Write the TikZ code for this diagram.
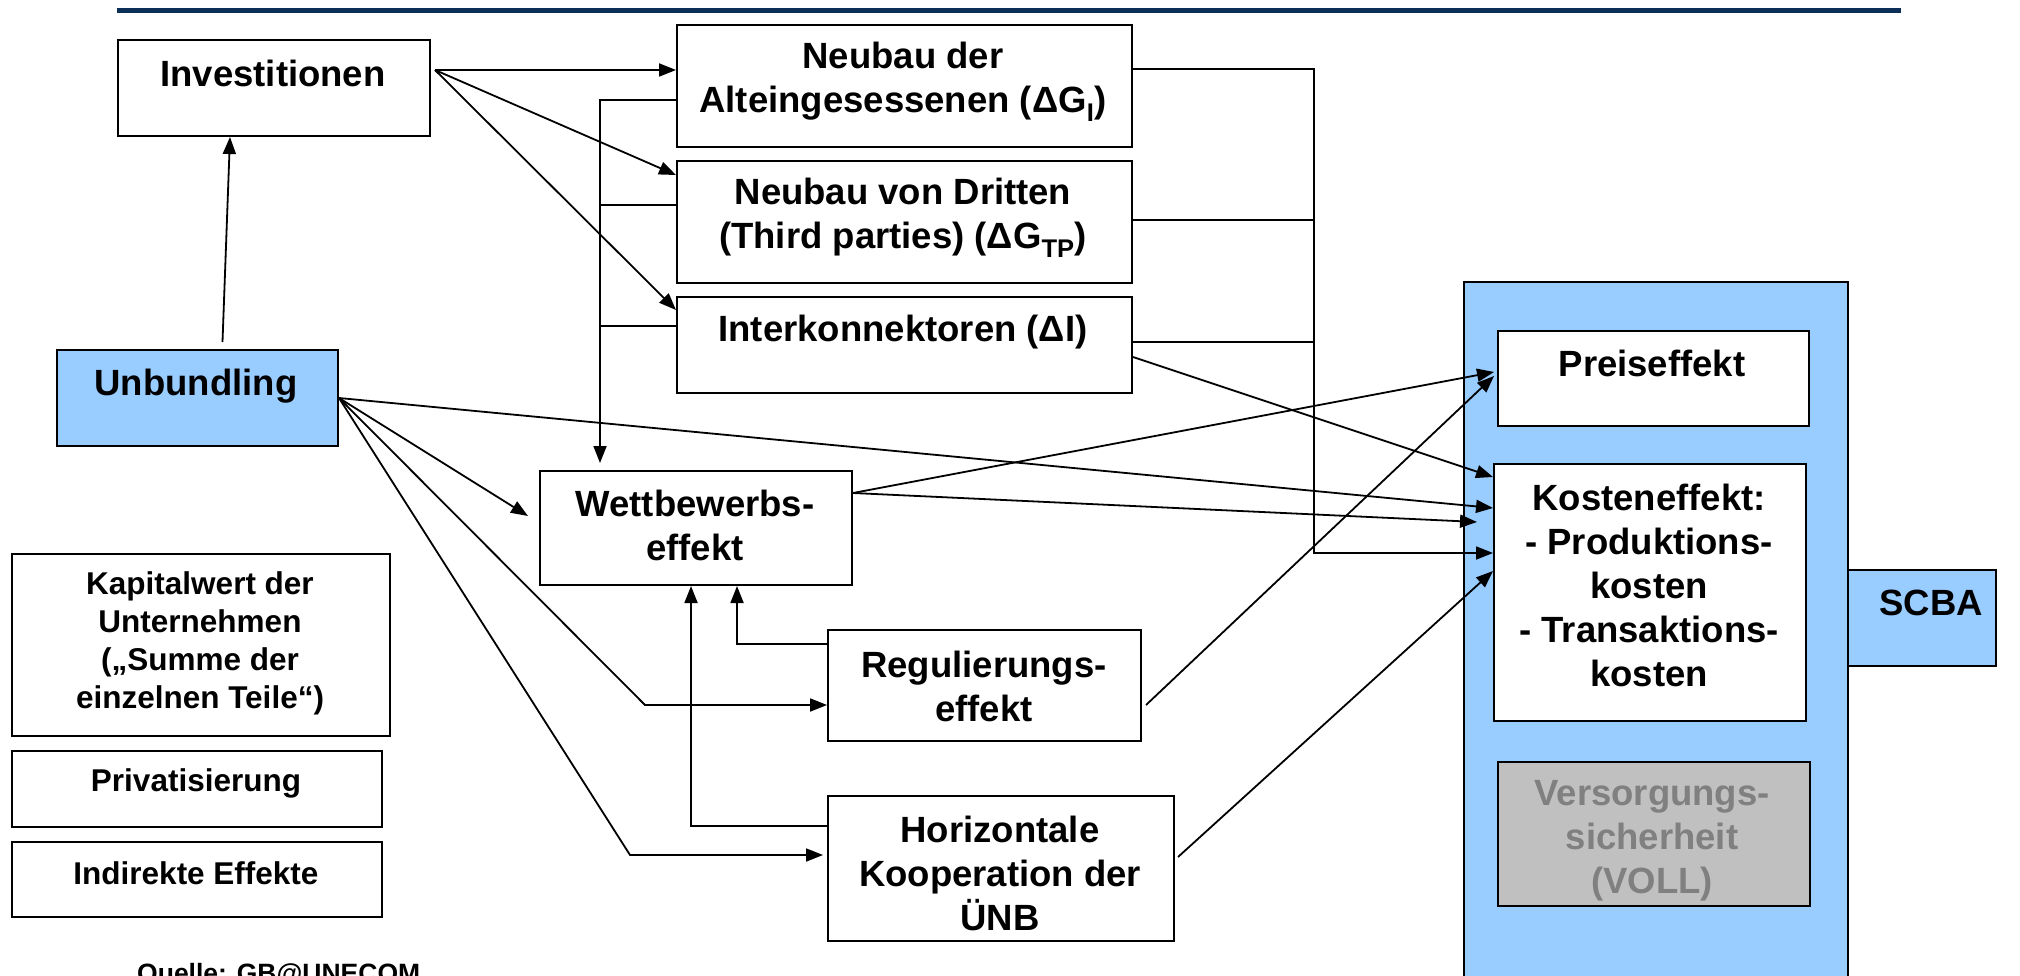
\documentclass[tikz,border=0pt]{standalone}
\usepackage{fontspec}
\setmainfont{Liberation Sans}
\usetikzlibrary{arrows.meta,calc}
\definecolor{navy}{HTML}{0B2F57}
\definecolor{lblue}{HTML}{99CCFF}
\definecolor{gfill}{HTML}{C0C0C0}
\definecolor{gtext}{HTML}{808080}
\begin{document}
\begin{tikzpicture}[x=1pt,y=-1pt,
  box/.style={draw, line width=2pt, inner sep=0pt, anchor=north west, fill=white},
  mtxt/.style={font=\fontsize{36.5}{44}\selectfont\bfseries, align=center, inner sep=0pt},
  stxt/.style={font=\fontsize{31.5}{38}\selectfont\bfseries, align=center, inner sep=0pt},
  ln/.style={line width=1.8pt},
  arr/.style={line width=1.8pt, -{Triangle[length=17pt,width=13pt]}}]
\useasboundingbox (0,0) rectangle (2020,976);
% header rule
\draw[navy, line width=5pt] (117,10.5) -- (1901,10.5);
% big SCBA panel
\node[box, fill=lblue, minimum width=384pt, minimum height=720pt] (panel) at (1463,281) {};
\node[box, fill=lblue, minimum width=148pt, minimum height=96pt] (scba) at (1847,569) {};
% boxes
\node[box, minimum width=312pt, minimum height=96pt] (inv) at (117,39) {};
\node[box, minimum width=455pt, minimum height=122pt] (nda) at (676,24) {};
\node[box, minimum width=455pt, minimum height=122pt] (ndr) at (676,160) {};
\node[box, minimum width=455pt, minimum height=96pt] (ik) at (676,296) {};
\node[box, fill=lblue, minimum width=281pt, minimum height=96pt] (unb) at (56,349) {};
\node[box, minimum width=312pt, minimum height=114pt] (wb) at (539,470) {};
\node[box, minimum width=313pt, minimum height=111pt] (reg) at (827,629) {};
\node[box, minimum width=346pt, minimum height=145pt] (hk) at (827,795) {};
\node[box, minimum width=311pt, minimum height=95pt] (pe) at (1497,330) {};
\node[box, minimum width=312pt, minimum height=257pt] (ke) at (1493,463) {};
\node[box, fill=gfill, minimum width=312pt, minimum height=144pt] (vs) at (1497,761) {};
\node[box, minimum width=378pt, minimum height=182pt] (kw) at (11,553) {};
\node[box, minimum width=370pt, minimum height=76pt] (pr) at (11,750) {};
\node[box, minimum width=370pt, minimum height=75pt] (ie) at (11,841) {};
% texts
\node[mtxt] (tinv) at (273,73) {Investitionen};
\node[mtxt] (tnda) at (903,82) {Neubau der\\Alteingesessenen (ΔG\textsubscript{I})};
\node[mtxt] (tndr) at (903,218) {Neubau von Dritten\\(Third parties) (ΔG\textsubscript{TP})};
\node[mtxt] (tik) at (903,332) {Interkonnektoren (ΔI)};
\node[mtxt] (tunb) at (196,386) {Unbundling};
\node[mtxt] (twb) at (695,525) {Wettbewerbs-\\effekt};
\node[mtxt] (treg) at (984,686) {Regulierungs-\\effekt};
\node[mtxt] (thk) at (1000,873) {Horizontale\\Kooperation der\\ÜNB};
\node[mtxt] (tpe) at (1652,363) {Preiseffekt};
\node[mtxt] (tke) at (1649,585) {Kosteneffekt:\\- Produktions-\\kosten\\- Transaktions-\\kosten};
\node[mtxt, text=gtext] (tvs) at (1652,841) {Versorgungs-\\sicherheit\\(VOLL)};
\node[mtxt] (tscba) at (1931,603) {SCBA};
\node[stxt] (tkw) at (200,643) {Kapitalwert der\\Unternehmen\\(„Summe der\\einzelnen Teile“)};
\node[stxt] (tpr) at (196,783) {Privatisierung};
\node[stxt] (tie) at (196,873) {Indirekte Effekte};
\node[font=\fontsize{26.5}{30}\selectfont\bfseries, anchor=base west, inner sep=0pt] (src) at (137,982) {Quelle: GB@UNECOM};
% connectors
\draw[arr] ($(unb.north)+(25,-7)$) -- ($(inv.south)+(-44,0)$);
\draw[arr] ($(inv.north east)+(4,31)$) -- ($(nda.north west)+(0,46)$);
\draw[arr] ($(inv.north east)+(4,31)$) -- ($(ndr.north west)+(0,15)$);
\draw[arr] ($(inv.north east)+(4,31)$) -- ($(ik.north west)+(0,14)$);
% left bus into Wettbewerbseffekt
\draw[arr] ($(nda.north west)+(0,76)$) -| ($(wb.north west)+(61,-7)$);
\draw[ln] ($(ndr.north west)+(0,45)$) -- ++(-76,0);
\draw[ln] ($(ik.north west)+(0,30)$) -- ++(-76,0);
% right bus into Kosteneffekt
\draw[arr] ($(nda.north east)+(0,45)$) -- ++(181,0) |- ($(ke.north west)+(0,90)$);
\draw[ln] ($(ndr.north east)+(0,60)$) -- ++(181,0);
\draw[ln] ($(ik.north east)+(0,46)$) -- ++(181,0);
% into Kosteneffekt
\draw[arr] ($(ik.north east)+(0,61)$) -- ($(ke.north west)+(0,14)$);
\draw[arr] (unb.east) -- ($(ke.north west)+(0,45)$);
\draw[arr] ($(wb.north east)+(0,23)$) -- ($(ke.north west)+(-16,59)$);
\draw[arr] ($(hk.north east)+(3,62)$) -- ($(ke.north west)+(0,108)$);
% into Preiseffekt
\draw[arr] ($(wb.north east)+(0,23)$) -- ($(pe.north west)+(-3,42)$);
\draw[arr] ($(reg.north east)+(4,76)$) -- ($(pe.north west)+(-3,46)$);
% from Unbundling
\draw[arr] (unb.east) -- ($(wb.north west)+(-11,46)$);
\draw[arr] (unb.east) -- (645,705) -- ($(reg.north west)+(0,76)$);
\draw[arr] (unb.east) -- (630,855) -- ($(hk.north west)+(-4,60)$);
% feedback into Wettbewerbseffekt
\draw[arr] ($(reg.north west)+(0,15)$) -| ($(wb.south west)+(198,0)$);
\draw[arr] ($(hk.north west)+(0,31)$) -| ($(wb.south west)+(152,0)$);
\end{tikzpicture}
\end{document}
